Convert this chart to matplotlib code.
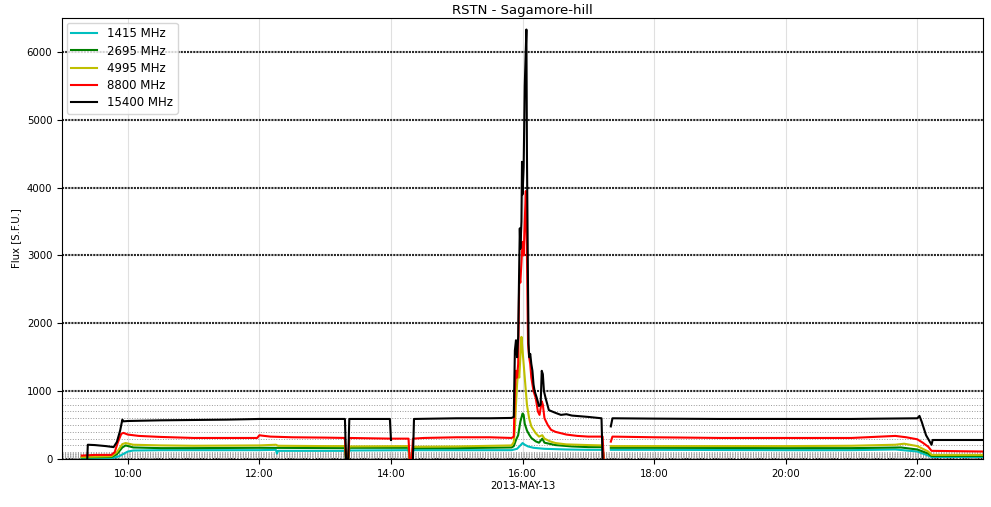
import numpy as np
import pandas as pd
import matplotlib
matplotlib.use("Agg")
import matplotlib.pyplot as plt
import matplotlib.dates as mdates

DAY = "2013-05-13 "
NA = None

labels = ["1415 MHz", "2695 MHz", "4995 MHz", "8800 MHz", "15400 MHz"]
colors = ["c", "g", "y", "r", "k"]

t_1415 = ["09:18", "09:45", "09:52", "10:00", "10:05", "10:30", "11:00", "12:00", "12:15", "12:16", "12:17",
          "13:00", "13:18", "13:19", "13:21", "13:22", "14:16", "14:17", "14:19", "14:20", "15:00", "15:50",
          "15:55", "15:58", "16:00", "16:02", "16:05", "16:10", "16:20", "16:40", "17:00", "17:13", "17:14",
          "17:15", "17:20.5", "18:00", "20:00", "21:00", "21:40", "22:00", "22:10", "22:13", "23:00"]
v_1415 = [5, 10, 40, 110, 125, 130, 130, 130, 135, 80, 120,
          120, 120, 0, 0, 125, 130, 0, 0, 130, 130, 130,
          150, 200, 235, 210, 185, 165, 150, 140, 135, 135, 0,
          NA, 135, 135, 130, 130, 140, 110, 50, 30, 30]

t_2695 = ["09:18", "09:45", "09:50", "09:55", "09:58", "10:05", "10:30", "11:00", "12:00", "13:18", "13:19",
          "13:21", "13:22", "14:16", "14:17", "14:19", "14:20", "15:00", "15:50", "15:52", "15:54", "15:56",
          "15:58", "16:00", "16:01", "16:02", "16:04", "16:06", "16:08", "16:12", "16:15", "16:18", "16:20",
          "16:30", "16:45", "17:00", "17:13", "17:14", "17:15", "17:20.5", "18:00", "20:00", "21:00", "21:45",
          "22:00", "22:10", "22:13", "23:00"]
v_2695 = [20, 30, 70, 170, 200, 170, 160, 160, 165, 160, 0,
          0, 165, 165, 0, 0, 160, 160, 170, 190, 280, 350,
          550, 670, 650, 520, 420, 360, 310, 260, 240, 300, 240,
          205, 185, 175, 175, 0, NA, 165, 165, 160, 160, 170,
          140, 80, 45, 45]

t_4995 = ["09:18", "09:45", "09:50", "09:55", "09:58", "10:05", "10:30", "11:00", "12:00", "12:15", "12:17",
          "13:00", "13:18", "13:19", "13:21", "13:22", "14:16", "14:17", "14:19", "14:20", "15:00", "15:50",
          "15:52", "15:53", "15:54", "15:55", "15:56", "15:57", "15:58", "15:59", "16:00", "16:01", "16:02",
          "16:03", "16:04", "16:06", "16:08", "16:12", "16:15", "16:18", "16:20", "16:25", "16:30", "16:40",
          "17:00", "17:13", "17:14", "17:15", "17:20.5", "18:00", "20:00", "21:00", "21:40", "21:48", "22:00",
          "22:10", "22:13", "23:00"]
v_4995 = [30, 40, 100, 220, 235, 210, 200, 195, 200, 210, 195,
          190, 190, 0, 0, 185, 190, 0, 0, 180, 185, 200,
          250, 450, 800, 1100, 1300, 1200, 1500, 1800, 1600, 1400, 1200,
          1000, 800, 600, 480, 380, 330, 350, 300, 260, 235, 215,
          205, 200, 0, NA, 190, 190, 190, 195, 210, 225, 190,
          110, 60, 60]

t_8800 = ["09:18", "09:30", "09:45", "09:48", "09:51", "09:54", "09:56", "10:00", "10:10", "10:30", "11:00",
          "11:58", "12:00", "12:02", "12:10", "12:30", "13:00", "13:18", "13:19", "13:21", "13:22", "14:00",
          "14:16", "14:17", "14:19", "14:20", "14:30", "15:00", "15:30", "15:50", "15:52", "15:53", "15:54",
          "15:55", "15:56", "15:57", "15:58", "15:59", "16:00", "16:01", "16:02", "16:03", "16:04", "16:05",
          "16:06", "16:07", "16:08", "16:10", "16:12", "16:14", "16:15.5", "16:17.5", "16:18.5", "16:20",
          "16:23", "16:26", "16:30", "16:40", "16:50", "17:00", "17:13", "17:14", "17:15", "17:20.5", "17:22",
          "18:00", "19:00", "20:00", "21:00", "21:40", "21:50", "22:00", "22:05", "22:10", "22:13", "23:00"]
v_8800 = [50, 60, 60, 100, 250, 370, 385, 360, 340, 325, 310,
          310, 350, 345, 330, 320, 315, 310, 0, 0, 310, 300,
          300, 0, 0, 300, 310, 320, 320, 310, 330, 1000, 1300,
          1200, 1400, 2700, 2600, 2900, 3200, 3000, 3500, 3950, 3000, 1700,
          1500, 1400, 1200, 1000, 900, 700, 650, 850, 800, 600,
          500, 430, 400, 360, 340, 330, 330, 0, NA, 256, 330,
          320, 310, 310, 310, 340, 320, 290, 240, 180, 120, 110]

t_15400 = ["09:23", "09:23.5", "09:30", "09:40", "09:47", "09:50", "09:53", "09:55", "09:56", "10:00", "10:30",
           "11:00", "11:30", "12:00", "12:30", "13:00", "13:18", "13:19", "13:21", "13:22", "13:59", "14:00",
           "14:00.5", "14:20", "14:21", "14:40", "15:00", "15:30", "15:50", "15:52", "15:53", "15:54", "15:55",
           "15:56", "15:57", "15:57.5", "15:58", "15:59", "15:59.5", "16:00", "16:01", "16:02", "16:03.5",
           "16:04", "16:05", "16:05.5", "16:06", "16:07", "16:08", "16:09", "16:10", "16:11", "16:13", "16:15",
           "16:16.5", "16:17.5", "16:18.5", "16:19.5", "16:21", "16:24", "16:30", "16:35", "16:40", "16:45",
           "17:00", "17:12", "17:13", "17:14", "17:20.5", "17:22", "18:00", "19:00", "20:00", "21:00", "22:00",
           "22:02", "22:04", "22:08", "22:13", "22:14", "23:00"]
v_15400 = [0, 210, 205, 190, 175, 250, 420, 580, 555, 560, 570,
           575, 580, 590, 590, 590, 590, 0, 0, 590, 590, 280,
           NA, 0, 590, 595, 600, 600, 605, 620, 1600, 1750, 1500,
           1800, 2900, 3400, 3100, 3500, 4380, 3900, 4300, 5500, 6330,
           4500, 2500, 1700, 1500, 1550, 1400, 1300, 1100, 1000, 900, 780,
           800, 1300, 1250, 1000, 900, 720, 680, 650, 660, 640,
           620, 600, 0, NA, 480, 600, 595, 590, 590, 590, 600,
           635, 550, 350, 210, 280, 280]

series_t = [t_1415, t_2695, t_4995, t_8800, t_15400]
series_v = [v_1415, v_2695, v_4995, v_8800, v_15400]


def to_dt(ts):
    out = []
    for s in ts:
        hh, rest = s.split(":")
        mm = float(rest)
        out.append(pd.Timestamp(DAY + "00:00") + pd.Timedelta(hours=int(hh), minutes=mm))
    return out


fig = plt.figure(figsize=(9.91, 5.07), dpi=100)
ax = fig.add_axes([0.0626, 0.0947, 0.9294, 0.8698])

for ts, vs, lab, col in zip(series_t, series_v, labels, colors):
    x = to_dt(ts)
    y = np.array([np.nan if v is None else v for v in vs], dtype=float)
    ax.plot(x, y, color=col, lw=1.5, label=lab)

ax.set_xlim(pd.Timestamp(DAY + "09:00"), pd.Timestamp(DAY + "23:00"))
ax.set_ylim(0, 6500)
ax.xaxis.set_major_locator(mdates.HourLocator(byhour=range(10, 23, 2)))
ax.xaxis.set_major_formatter(mdates.DateFormatter("%H:%M"))
ax.set_yticks(np.arange(0, 6001, 1000))
ax.set_yticks(list(range(10, 100, 10)) + list(range(100, 1000, 100)), minor=True)
ax.tick_params(axis="y", which="minor", length=0)
ax.tick_params(labelsize=7.3)

ax.xaxis.grid(True, color="#e0e0e0", lw=0.8)
ax.yaxis.grid(True, which="major", color="#2a2a2a", ls=(0, (1, 0.5)), lw=1.5)
ax.yaxis.grid(True, which="minor", color="#999999", ls=":", lw=0.7)

ax.set_title("RSTN - Sagamore-hill", fontsize=9.5, pad=3)
ax.set_xlabel("2013-MAY-13", fontsize=7.3, labelpad=2)
ax.set_ylabel("Flux [S.F.U.]", fontsize=7.3, labelpad=4)
ax.legend(loc="upper left", fontsize=8.5, handlelength=2.2, borderaxespad=0.4, labelspacing=0.35)

fig.savefig("out.png", dpi=100)
